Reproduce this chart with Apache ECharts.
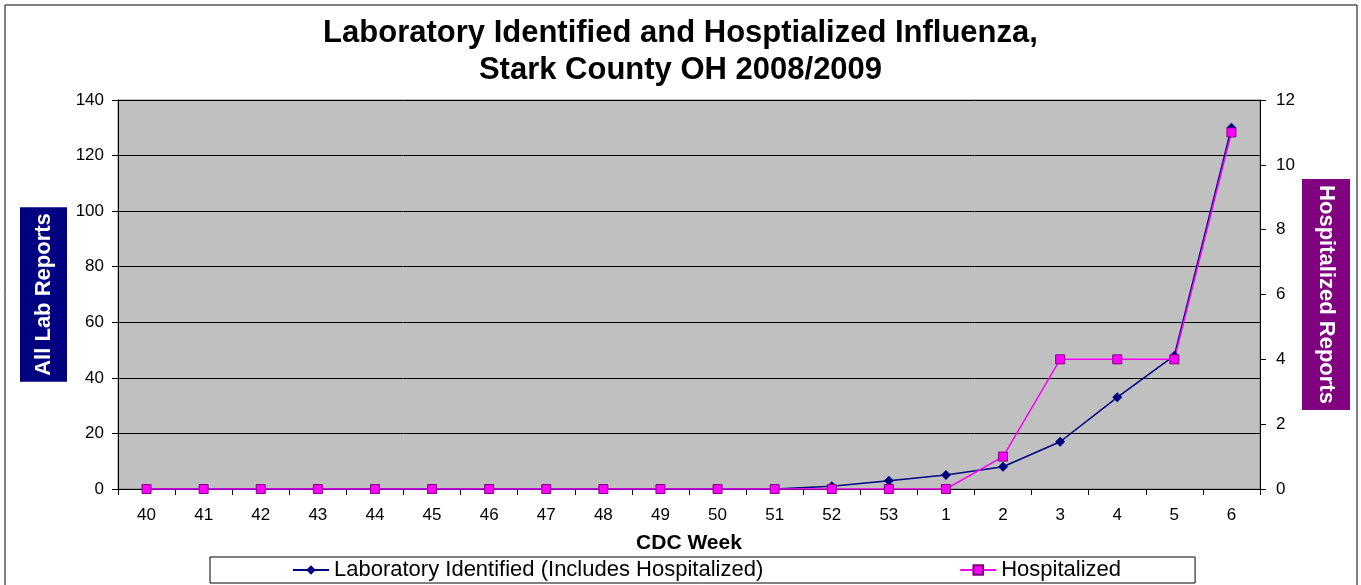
<!DOCTYPE html>
<html>
<head>
<meta charset="utf-8">
<script src="https://cdn.jsdelivr.net/npm/echarts@6/dist/echarts.min.js"></script>
<style>
  html, body { margin: 0; padding: 0; background: #fff; }
  #chart { width: 1361px; height: 585px; }
</style>
</head>
<body>
<div id="chart"></div>
<script>
// CDC weeks, season 2008/2009
const weeks = ['40', '41', '42', '43', '44', '45', '46', '47', '48', '49', '50', '51', '52', '53', '1', '2', '3', '4', '5', '6'];
// all lab-identified reports (left axis)
const labIdentified = [0, 0, 0, 0, 0, 0, 0, 0, 0, 0, 0, 0, 1, 3, 5, 8, 17, 33, 48, 130];
// hospitalized reports (right axis)
const hospitalized = [0, 0, 0, 0, 0, 0, 0, 0, 0, 0, 0, 0, 0, 0, 0, 1, 4, 4, 4, 11];

const font = 'Arial, "Liberation Sans", sans-serif';

const option = {
    backgroundColor: '#fff',
    animation: false,
    title: {
        text: 'Laboratory Identified and Hosptialized Influenza,\nStark County OH 2008/2009',
        left: 'center',
        top: 10,
        textStyle: {
            fontFamily: font,
            fontWeight: 'bold',
            fontSize: 31,
            lineHeight: 37,
            color: '#000'
        }
    },
    graphic: [
        {
            type: 'rect',
            shape: {x: 5, y: 5, width: 1352, height: 600},
            style: {fill: 'none', stroke: '#000', lineWidth: 1},
            silent: true
        }
    ],
    legend: {
        left: 210,
        bottom: 2,
        padding: [2, 74, 2, 82],
        itemGap: 196,
        itemWidth: 36,
        itemHeight: 12,
        backgroundColor: '#fff',
        borderColor: '#000',
        borderWidth: 1,
        textStyle: {fontFamily: font, fontSize: 22, color: '#000'},
        data: ['Laboratory Identified (Includes Hospitalized)', 'Hospitalized']
    },
    grid: {
        left: 118,
        right: 101,
        top: 100,
        bottom: 96,
        show: true,
        backgroundColor: '#c0c0c0',
        borderColor: '#808080',
        borderWidth: 1
    },
    xAxis: {
        type: 'category',
        data: weeks,
        boundaryGap: true,
        name: 'CDC Week',
        nameLocation: 'middle',
        nameGap: 44,
        nameTextStyle: {fontFamily: font, fontWeight: 'bold', fontSize: 21, color: '#000'},
        axisLine: {lineStyle: {color: '#000'}},
        axisTick: {show: true, length: 6, lineStyle: {color: '#000'}},
        axisLabel: {fontFamily: font, fontSize: 17, color: '#000', margin: 18}
    },
    yAxis: [
        {
            type: 'value',
            min: 0,
            max: 140,
            interval: 20,
            name: 'All Lab Reports',
            nameLocation: 'middle',
            nameRotate: 90,
            nameGap: 51,
            nameMoveOverlap: false,
            nameTextStyle: {
                fontFamily: font, fontWeight: 'bold', fontSize: 22, lineHeight: 24, color: '#fff',
                backgroundColor: '#000080', padding: [12, 6, 11, 6]
            },
            axisLine: {show: true, lineStyle: {color: '#000'}},
            axisTick: {show: true, length: 6, lineStyle: {color: '#000'}},
            axisLabel: {fontFamily: font, fontSize: 17, color: '#000', margin: 14},
            splitLine: {show: true, lineStyle: {color: '#000', width: 1}}
        },
        {
            type: 'value',
            min: 0,
            max: 12,
            interval: 2,
            name: 'Hospitalized Reports',
            nameLocation: 'middle',
            nameRotate: -90,
            nameGap: 42,
            nameMoveOverlap: false,
            nameTextStyle: {
                fontFamily: font, fontWeight: 'bold', fontSize: 22, lineHeight: 24, color: '#fff',
                backgroundColor: '#800080', padding: [12, 6, 12, 6]
            },
            axisLine: {show: true, lineStyle: {color: '#000'}},
            axisTick: {show: true, length: 6, lineStyle: {color: '#000'}},
            axisLabel: {fontFamily: font, fontSize: 17, color: '#000', margin: 16},
            splitLine: {show: false}
        }
    ],
    series: [
        {
            name: 'Laboratory Identified (Includes Hospitalized)',
            type: 'line',
            yAxisIndex: 0,
            data: labIdentified,
            symbol: 'diamond',
            symbolSize: 10,
            itemStyle: {color: '#000080'},
            lineStyle: {color: '#000080', width: 1.5}
        },
        {
            name: 'Hospitalized',
            type: 'line',
            yAxisIndex: 1,
            data: hospitalized,
            symbol: 'rect',
            symbolSize: 9,
            itemStyle: {color: '#ff00ff', borderColor: '#800080', borderWidth: 1},
            lineStyle: {color: '#ff00ff', width: 1.5}
        }
    ]
};

const chart = echarts.init(document.getElementById('chart'));
chart.setOption(option);
window.addEventListener('resize', function () {
    chart.resize();
});
</script>
</body>
</html>
